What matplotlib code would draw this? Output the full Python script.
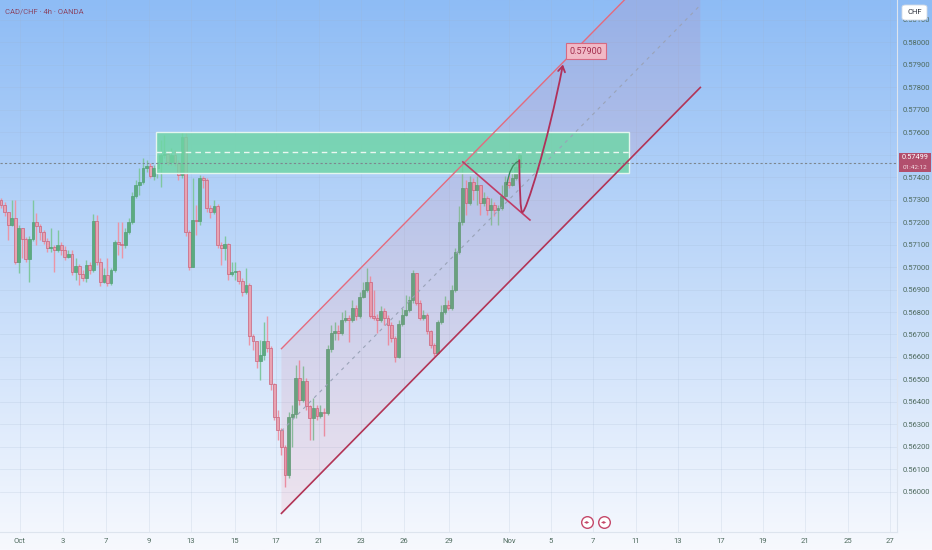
import numpy as np
import matplotlib
matplotlib.use("Agg")
import matplotlib.pyplot as plt
from matplotlib.patches import Polygon, Rectangle, FancyArrowPatch, PathPatch, FancyBboxPatch
from matplotlib.path import Path
from matplotlib.transforms import blended_transform_factory
from matplotlib.colors import to_rgb

plt.rcParams['font.family'] = ['Roboto', 'DejaVu Sans']

# 4h candles (open = previous close)
first_open = 0.57298
closes = [0.57276, 0.57244, 0.57187, 0.57218, 0.57022, 0.57173, 0.57124, 0.57036, 0.57124, 0.57200,
          0.57182, 0.57156, 0.57116, 0.57084, 0.57089, 0.57076, 0.57098, 0.57076, 0.57045, 0.57058,
          0.56978, 0.57005, 0.56969, 0.56951, 0.57009, 0.56987, 0.57204, 0.57022, 0.56933, 0.56964,
          0.56929, 0.56987, 0.57111, 0.57102, 0.57098, 0.57156, 0.57200, 0.57316, 0.57364, 0.57378,
          0.57440, 0.57449, 0.57404, 0.57440, 0.57467, 0.57498, 0.57502, 0.57467, 0.57498, 0.57462,
          0.57409, 0.57578, 0.57156, 0.57000, 0.57209, 0.57204, 0.57396, 0.57387, 0.57262, 0.57244,
          0.57271, 0.57098, 0.57084, 0.57102, 0.56969, 0.56978, 0.56982, 0.56938, 0.56889, 0.56920,
          0.56694, 0.56671, 0.56582, 0.56609, 0.56671, 0.56640, 0.56480, 0.56334, 0.56276, 0.56200,
          0.56076, 0.56334, 0.56347, 0.56507, 0.56409, 0.56494, 0.56382, 0.56329, 0.56374, 0.56338,
          0.56356, 0.56351, 0.56636, 0.56707, 0.56716, 0.56707, 0.56765, 0.56774, 0.56765, 0.56818,
          0.56782, 0.56867, 0.56898, 0.56933, 0.56782, 0.56774, 0.56765, 0.56805, 0.56774, 0.56742,
          0.56685, 0.56600, 0.56747, 0.56787, 0.56809, 0.56854, 0.56973, 0.56840, 0.56774, 0.56787,
          0.56716, 0.56654, 0.56618, 0.56756, 0.56800, 0.56831, 0.56818, 0.56898, 0.57067, 0.57200,
          0.57351, 0.57284, 0.57378, 0.57342, 0.57364, 0.57284, 0.57307, 0.57253, 0.57276, 0.57253,
          0.57262, 0.57316, 0.57378, 0.57364, 0.57396, 0.57445, 0.57499]
highs = [0.57307, 0.57289, 0.57244, 0.57298, 0.57298, 0.57187, 0.57142, 0.57133, 0.57138, 0.57298,
         0.57240, 0.57191, 0.57164, 0.57129, 0.57173, 0.57098, 0.57164, 0.57111, 0.57093, 0.57076,
         0.57076, 0.57040, 0.57014, 0.56987, 0.57031, 0.57022, 0.57236, 0.57231, 0.57040, 0.56996,
         0.57040, 0.56996, 0.57120, 0.57200, 0.57200, 0.57173, 0.57218, 0.57333, 0.57387, 0.57440,
         0.57484, 0.57476, 0.57462, 0.57453, 0.57498, 0.57564, 0.57587, 0.57520, 0.57529, 0.57520,
         0.57476, 0.57600, 0.57596, 0.57164, 0.57396, 0.57276, 0.57409, 0.57404, 0.57396, 0.57276,
         0.57298, 0.57280, 0.57111, 0.57138, 0.57107, 0.57022, 0.57022, 0.56987, 0.56951, 0.56996,
         0.56929, 0.56702, 0.56654, 0.56676, 0.56756, 0.56782, 0.56649, 0.56485, 0.56365, 0.56285,
         0.56209, 0.56356, 0.56387, 0.56565, 0.56587, 0.56560, 0.56507, 0.56387, 0.56418, 0.56387,
         0.56387, 0.56374, 0.56654, 0.56742, 0.56756, 0.56742, 0.56800, 0.56809, 0.56787, 0.56854,
         0.56831, 0.56889, 0.56933, 0.56996, 0.56960, 0.56898, 0.56791, 0.56827, 0.56818, 0.56787,
         0.56756, 0.56694, 0.56765, 0.56818, 0.56876, 0.56871, 0.56987, 0.56973, 0.56854, 0.56809,
         0.56796, 0.56720, 0.56662, 0.56765, 0.56831, 0.56871, 0.56854, 0.56920, 0.57084, 0.57271,
         0.57467, 0.57387, 0.57404, 0.57396, 0.57404, 0.57333, 0.57333, 0.57316, 0.57307, 0.57289,
         0.57276, 0.57364, 0.57404, 0.57404, 0.57431, 0.57484, 0.57511]
lows = [0.57262, 0.57227, 0.57120, 0.57182, 0.57014, 0.56973, 0.57040, 0.57022, 0.56933, 0.57116,
        0.57098, 0.57120, 0.57102, 0.57067, 0.57067, 0.56978, 0.57067, 0.57053, 0.57031, 0.57040,
        0.56964, 0.56942, 0.56920, 0.56938, 0.56933, 0.56969, 0.56978, 0.57009, 0.56916, 0.56929,
        0.56916, 0.56920, 0.56978, 0.57053, 0.57040, 0.57084, 0.57147, 0.57191, 0.57307, 0.57320,
        0.57369, 0.57422, 0.57396, 0.57387, 0.57396, 0.57356, 0.57484, 0.57453, 0.57453, 0.57449,
        0.57387, 0.57396, 0.57138, 0.56987, 0.57120, 0.57142, 0.57187, 0.57351, 0.57244, 0.57218,
        0.57236, 0.57084, 0.57009, 0.57031, 0.56942, 0.56960, 0.56942, 0.56924, 0.56871, 0.56880,
        0.56654, 0.56631, 0.56551, 0.56498, 0.56587, 0.56622, 0.56454, 0.56320, 0.56231, 0.56165,
        0.56022, 0.56062, 0.56200, 0.56329, 0.56387, 0.56400, 0.56365, 0.56231, 0.56231, 0.56320,
        0.56329, 0.56249, 0.56342, 0.56622, 0.56676, 0.56676, 0.56698, 0.56756, 0.56667, 0.56756,
        0.56765, 0.56774, 0.56862, 0.56889, 0.56774, 0.56765, 0.56707, 0.56756, 0.56742, 0.56654,
        0.56667, 0.56578, 0.56596, 0.56738, 0.56782, 0.56800, 0.56840, 0.56831, 0.56765, 0.56765,
        0.56702, 0.56640, 0.56605, 0.56613, 0.56747, 0.56791, 0.56809, 0.56809, 0.56889, 0.57058,
        0.57187, 0.57231, 0.57276, 0.57298, 0.57276, 0.57231, 0.57271, 0.57231, 0.57187, 0.57227,
        0.57187, 0.57253, 0.57298, 0.57351, 0.57360, 0.57387, 0.57440]

date_labels = ["Oct", "3", "7", "9", "13", "15", "17", "21", "23", "26", "29",
               "Nov", "5", "7", "11", "13", "17", "19", "21", "25", "27"]
date_pos = [5.3, 17.5, 29.6, 41.7, 53.5, 65.9, 77.5, 89.6, 101.4, 113.5, 126.2,
            143.1, 154.9, 166.8, 178.9, 190.7, 202.8, 214.6, 226.5, 238.6, 250.4]
price_ticks = [0.560, 0.561, 0.562, 0.563, 0.564, 0.565, 0.566, 0.567, 0.568, 0.569, 0.570,
               0.571, 0.572, 0.573, 0.574, 0.575, 0.576, 0.577, 0.578, 0.579, 0.580, 0.581]

# drawings
zone_left, zone_right = 43.7, 176.9
zone_top, zone_bottom = 0.57600, 0.57418
hline_price = 0.57463
last_price = 0.57499
countdown = "01:42:12"
chan_x0, chan_x1 = 79, 197
chan_low0, chan_low1 = 0.55905, 0.57798
chan_width = 0.00732
trend_a = (130.1, 0.57467)
trend_b = (149.0, 0.57209)
target_price = 0.57900

W, H = 932, 550
fig = plt.figure(figsize=(W / 100, H / 100), dpi=100)

# background gradient
bg = fig.add_axes([0, 0, 1, 1], zorder=-10)
top_c = np.array(to_rgb('#8ebcf5'))
bot_c = np.array(to_rgb('#f7f9fe'))
t = np.linspace(0, 1, 300)[:, None]
grad = top_c[None, :] * (1 - t) + bot_c[None, :] * t
bg.imshow(grad[:, None, :], aspect='auto', extent=[0, 1, 0, 1])
bg.axis('off')

ax = fig.add_axes([0, 18 / H, 897 / W, 532 / H])
ax.patch.set_alpha(0)
ax.set_xlim(-0.28, 252.4)
ax.set_ylim(0.558222, 0.581867)

ax.set_xticks(date_pos)
ax.set_xticklabels(date_labels)
ax.set_yticks(price_ticks)
# the 0.575 label sits under the last-price marker
ax.set_yticklabels(["" if abs(p - 0.575) < 1e-6 else "%.5f" % p for p in price_ticks])
ax.yaxis.tick_right()
ax.tick_params(axis='both', length=0, labelsize=5.5, colors='#4e6a5e')
ax.tick_params(axis='x', pad=4)
ax.tick_params(axis='y', pad=4)
ax.grid(True, color='#9fb3cc', lw=0.6, alpha=0.22)
ax.set_axisbelow(True)
for s in ['left', 'top']:
    ax.spines[s].set_visible(False)
for s in ['right', 'bottom']:
    ax.spines[s].set_color('#dde4ee')
    ax.spines[s].set_linewidth(0.8)

# candles
n = len(closes)
x = np.arange(n)
opens = np.array([first_open] + closes[:-1])
c = np.array(closes)
hi = np.maximum(np.array(highs), np.maximum(opens, c))
lo = np.minimum(np.array(lows), np.minimum(opens, c))
up = c >= opens
wick_col = np.where(up, '#7fc7a0', '#eb95a6')
body_col = np.where(up, '#5cab80', '#e8a3b2')
edge_col = np.where(up, '#52a077', '#c9637c')
ax.vlines(x, lo, hi, colors=wick_col, lw=1, zorder=2)
bottoms = np.minimum(opens, c)
heights = np.maximum(np.abs(c - opens), 0.00003)
ax.bar(x, heights, 0.8, bottom=bottoms, color=body_col, edgecolor=edge_col, linewidth=0.5, zorder=3)

# parallel channel
chan = Polygon([(chan_x0, chan_low0), (chan_x1, chan_low1),
                (chan_x1, chan_low1 + chan_width), (chan_x0, chan_low0 + chan_width)],
               closed=True, facecolor='#e8506e', alpha=0.1, edgecolor='none', zorder=4)
ax.add_patch(chan)
ax.plot([chan_x0, chan_x1], [chan_low0, chan_low1], color='#b23456', lw=1.2, zorder=6)
ax.plot([chan_x0, chan_x1], [chan_low0 + chan_width, chan_low1 + chan_width], color='#e46b7e', lw=1.0, zorder=6)
ax.plot([chan_x0, chan_x1], [chan_low0 + chan_width / 2, chan_low1 + chan_width / 2],
        color='#9aa3b8', lw=0.8, ls=(0, (3, 4)), zorder=6)

# zone box
zone = Rectangle((zone_left, zone_bottom), zone_right - zone_left, zone_top - zone_bottom,
                 facecolor='#6fd6a6', alpha=0.82, edgecolor='none', zorder=5)
ax.add_patch(zone)
ax.add_patch(Rectangle((zone_left, zone_bottom), zone_right - zone_left, zone_top - zone_bottom,
                       facecolor='none', edgecolor='#e3f6ee', lw=1, zorder=5))
ax.hlines((zone_top + zone_bottom) / 2, zone_left, zone_right, colors='#e9f7f0',
          linestyles=(0, (4, 3)), lw=1, zorder=6)

# horizontal price line
ax.axhline(hline_price, color='#7d868f', lw=0.8, ls=(0, (2, 2)), zorder=6)

# descending trend line
ax.plot([trend_a[0], trend_b[0]], [trend_a[1], trend_b[1]], color='#c03c66', lw=1.2, zorder=7)

# small green projection arc
arc = Path([(142.5, 0.57364), (143.3, 0.57455), (145.9, 0.57471)],
           [Path.MOVETO, Path.CURVE3, Path.CURVE3])
ax.add_patch(PathPatch(arc, facecolor='none', edgecolor='#3f8f62', lw=1, zorder=8))

# projected path with arrow
verts = [(146.0, 0.57475), (146.1, 0.57350), (146.3, 0.57240), (146.9, 0.57244),
         (147.8, 0.57240), (154.0, 0.57550), (158.3, target_price)]
codes = [Path.MOVETO, Path.CURVE4, Path.CURVE4, Path.CURVE4, Path.CURVE4, Path.CURVE4, Path.CURVE4]
arrow = FancyArrowPatch(path=Path(verts, codes), arrowstyle='->,head_length=4,head_width=2.5',
                        color='#b0305a', lw=1.3, mutation_scale=1, zorder=8)
ax.add_patch(arrow)
ax.text(164.8, target_price + 0.0006, "%.5f" % target_price, fontsize=6.5, color='#a32d4d',
        ha='center', va='center', zorder=9,
        bbox=dict(boxstyle='square,pad=0.35', fc='#f1b9c6', ec='#d66a83', lw=0.8))

# event markers
trans = blended_transform_factory(ax.transData, ax.transAxes)
for ex in [165.1, 169.9]:
    ax.scatter([ex], [0.019], s=70, marker='o', facecolor='white', edgecolor='#c4486a',
               linewidths=1, transform=trans, zorder=9, clip_on=False)
    ax.text(ex, 0.019, "\u25c2\u25b8", fontsize=4.5, color='#c4486a', ha='center', va='center',
            transform=trans, zorder=10, family=['DejaVu Sans'])

# last price label on the scale
fig.patches.append(Rectangle((899 / W, 1 - 172 / H), 32 / W, 19 / H, transform=fig.transFigure,
                             facecolor='#b24f6d', edgecolor='none', zorder=20))
fig.text(915 / W, 1 - 157.5 / H, "%.5f" % last_price, fontsize=5.3, color='white', ha='center',
         va='center', zorder=21)
fig.text(915 / W, 1 - 167 / H, countdown, fontsize=4.6, color='#f3dbe2', ha='center', va='center', zorder=21)

# currency box
fig.patches.append(FancyBboxPatch((902 / W, 1 - 20 / H), 25 / W, 15 / H, boxstyle='round,pad=0,rounding_size=0.004',
                                  transform=fig.transFigure, facecolor='white', edgecolor='#d3dae3',
                                  lw=0.6, zorder=20))
fig.text(914.5 / W, 1 - 12.5 / H, "CHF", fontsize=5.5, color='#2a2e39', ha='center', va='center', zorder=21)

# title
fig.text(5 / W, 1 - 11 / H, "CAD/CHF \u00b7 4h \u00b7 OANDA", fontsize=5.5, color='#8a4664',
         ha='left', va='center')

fig.savefig("out.png", dpi=100)
